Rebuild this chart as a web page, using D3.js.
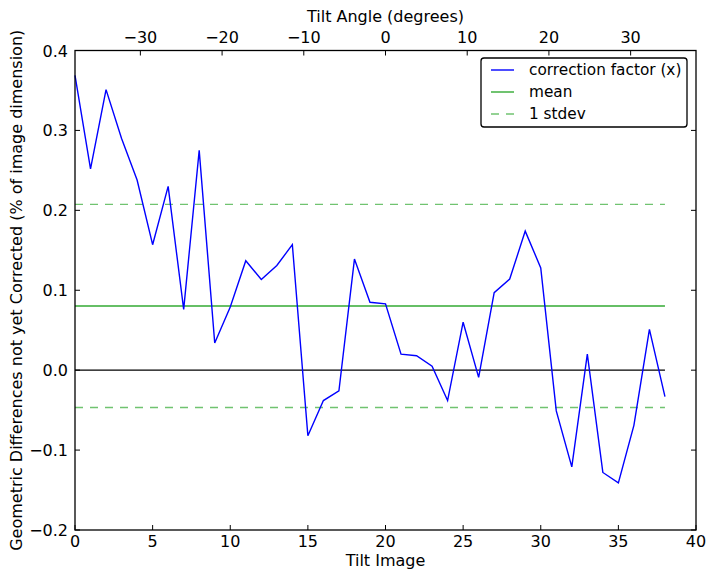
<!DOCTYPE html>
<html><head><meta charset="utf-8">
<script src="https://cdn.jsdelivr.net/npm/d3@7"></script>
<style>body{margin:0;background:#fff;} text{font-family:"DejaVu Sans",sans-serif;}</style>
</head><body>
<script>
const tiltImages = d3.range(0, 39);
const correction = [0.369,0.252,0.351,0.290,0.238,0.157,0.230,0.076,0.275,0.034,
  0.079,0.137,0.1135,0.131,0.157,-0.082,-0.038,-0.026,0.139,0.085,
  0.083,0.020,0.018,0.005,-0.038,0.060,-0.009,0.097,0.114,0.174,
  0.128,-0.051,-0.121,0.020,-0.128,-0.141,-0.069,0.051,-0.033];
const meanValue = 0.0803;
const stdValue = 0.1271;
const xTicks = [0,5,10,15,20,25,30,35,40];
const yTicks = [-0.2,-0.1,0.0,0.1,0.2,0.3,0.4];
const angleTicks = [-30,-20,-10,0,10,20,30];
const legendLabels = ["correction factor (x)","mean","1 stdev"];

const W=714,H=579;
const m={l:75,r:18,t:50.5,b:49};
const svg=d3.select("body").append("svg").attr("width",W).attr("height",H);
const x=d3.scaleLinear().domain([0,40]).range([m.l,W-m.r]);
const y=d3.scaleLinear().domain([-0.2,0.4]).range([H-m.b,m.t]);
const xa=d3.scaleLinear().domain([-38,38]).range([m.l,W-m.r]);
const fs=16;

// lines
const g=svg.append("g");
const x0=x(0),x38=x(38);
g.append("line").attr("x1",x0).attr("x2",x38).attr("y1",y(0)).attr("y2",y(0)).attr("stroke","#000").attr("stroke-width",1.4);
g.append("line").attr("x1",x0).attr("x2",x38).attr("y1",y(meanValue)).attr("y2",y(meanValue)).attr("stroke","#33aa33").attr("stroke-width",1.4);
[meanValue+stdValue, meanValue-stdValue].forEach(v=>{
  g.append("line").attr("x1",x0).attr("x2",x38).attr("y1",y(v)).attr("y2",y(v)).attr("stroke","#33aa33").attr("stroke-opacity",0.7).attr("stroke-width",1.4).attr("stroke-dasharray","8,7");
});
g.append("path").datum(correction).attr("fill","none").attr("stroke","#0000ff").attr("stroke-width",1.4)
  .attr("d",d3.line().x((d,i)=>x(tiltImages[i])).y(d=>y(d)));

// frame
svg.append("rect").attr("x",m.l).attr("y",m.t).attr("width",W-m.r-m.l).attr("height",H-m.b-m.t).attr("fill","none").attr("stroke","#000").attr("stroke-width",1.3);

const tl=5;
// bottom axis
const bottom=svg.append("g");
xTicks.forEach(t=>{
  bottom.append("line").attr("x1",x(t)).attr("x2",x(t)).attr("y1",H-m.b).attr("y2",H-m.b-tl).attr("stroke","#000");
  bottom.append("text").attr("x",x(t)).attr("y",H-m.b+17).attr("text-anchor","middle").attr("font-size",fs).text(t);
});
// left & right
yTicks.forEach(t=>{
  svg.append("line").attr("x1",m.l).attr("x2",m.l+tl).attr("y1",y(t)).attr("y2",y(t)).attr("stroke","#000");
  svg.append("line").attr("x1",W-m.r).attr("x2",W-m.r-tl).attr("y1",y(t)).attr("y2",y(t)).attr("stroke","#000");
  svg.append("text").attr("x",m.l-7).attr("y",y(t)+6).attr("text-anchor","end").attr("font-size",fs).text(d3.format(".1f")(t).replace("-","\u2212"));
});
// top axis
angleTicks.forEach(t=>{
  svg.append("line").attr("x1",xa(t)).attr("x2",xa(t)).attr("y1",m.t).attr("y2",m.t+tl).attr("stroke","#000");
  svg.append("text").attr("x",xa(t)).attr("y",m.t-8).attr("text-anchor","middle").attr("font-size",fs).text(String(t).replace("-","\u2212"));
});
// axis labels
svg.append("text").attr("x",(m.l+W-m.r)/2).attr("y",566).attr("text-anchor","middle").attr("font-size",fs).text("Tilt Image");
svg.append("text").attr("x",(m.l+W-m.r)/2).attr("y",22).attr("text-anchor","middle").attr("font-size",fs).text("Tilt Angle (degrees)");
svg.append("text").attr("transform",`translate(22,${(m.t+H-m.b)/2}) rotate(-90)`).attr("text-anchor","middle").attr("font-size",fs).text("Geometric Differences not yet Corrected (% of image dimension)");

// legend
const lg=svg.append("g");
lg.append("rect").attr("x",481).attr("y",58).attr("width",206).attr("height",69).attr("rx",3).attr("fill","#fff").attr("stroke","#000").attr("stroke-width",1.3);
const styles=[{c:"#0000ff",o:1,d:null},{c:"#33aa33",o:1,d:null},{c:"#33aa33",o:0.7,d:"8,7"}];
legendLabels.forEach((lab,i)=>{
  const yy=70+i*22;
  const ln=lg.append("line").attr("x1",491).attr("x2",514).attr("y1",yy).attr("y2",yy).attr("stroke",styles[i].c).attr("stroke-opacity",styles[i].o).attr("stroke-width",1.4);
  if(styles[i].d) ln.attr("stroke-dasharray",styles[i].d);
  lg.append("text").attr("x",529).attr("y",yy+5).attr("font-size",15.3).text(lab);
});
</script>
</body></html>
